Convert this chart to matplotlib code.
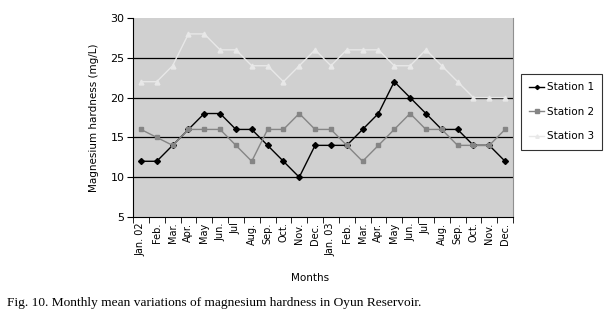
import matplotlib.pyplot as plt
import numpy as np

months = ["Jan. 02", "Feb.", "Mar.", "Apr.", "May", "Jun.", "Jul", "Aug.", "Sep.", "Oct.", "Nov.", "Dec.",
          "Jan. 03", "Feb.", "Mar.", "Apr.", "May", "Jun.", "Jul", "Aug.", "Sep.", "Oct.", "Nov.", "Dec."]
station1 = [12, 12, 14, 16, 18, 18, 16, 16, 14, 12, 10, 14, 14, 14, 16, 18, 22, 20, 18, 16, 16, 14, 14, 12]
station2 = [16, 15, 14, 16, 16, 16, 14, 12, 16, 16, 18, 16, 16, 14, 12, 14, 16, 18, 16, 16, 14, 14, 14, 16]
station3 = [22, 22, 24, 28, 28, 26, 26, 24, 24, 22, 24, 26, 24, 26, 26, 26, 24, 24, 26, 24, 22, 20, 20, 20]

fig = plt.figure(figsize=(6.11, 3.13), dpi=100)
ax = fig.add_axes([133 / 611, 1 - 217 / 313, 380 / 611, 199 / 313])
ax.set_facecolor("#d0d0d0")

x = np.arange(len(months))
ax.plot(x, station1, color="black", marker="D", markersize=3, lw=1, label="Station 1")
ax.plot(x, station2, color="#858585", marker="s", markersize=3.5, lw=1, label="Station 2")
ax.plot(x, station3, color="#e8e8e8", marker="^", markersize=3.5, lw=1, label="Station 3")

ax.set_xlim(-0.5, len(months) - 0.5)
ax.set_ylim(5, 30)
ax.set_yticks([5, 10, 15, 20, 25, 30])
for y in [10, 15, 20, 25]:
    ax.axhline(y, color="black", lw=0.9, zorder=0.5)

ax.set_xticks(x)
ax.set_xticklabels(months, rotation=90, fontsize=7)
ax.set_xticks(np.arange(-0.5, len(months), 1), minor=True)
ax.tick_params(axis="x", which="major", length=0, pad=4)
ax.tick_params(axis="x", which="minor", length=4, direction="out")
ax.tick_params(axis="y", labelsize=8, length=4, direction="out", pad=2)

ax.spines["top"].set_visible(False)
ax.spines["right"].set_color("#909090")
ax.spines["left"].set_color("black")
ax.spines["bottom"].set_color("black")

ax.set_ylabel("Magnesium hardness (mg/L)", fontsize=7.5, labelpad=8)
fig.text(310 / 611, 1 - 278 / 313, "Months", fontsize=7.5, ha="center", va="center")

leg = fig.legend(loc="upper left", bbox_to_anchor=(521 / 611, 1 - 74 / 313), fontsize=7.5,
                 frameon=True, fancybox=False, edgecolor="black", handlelength=1.4,
                 handletextpad=0.25, borderpad=0.8, labelspacing=1.4, borderaxespad=0,
                 markerscale=0.7)
leg.get_frame().set_linewidth(0.8)

fig.text(7 / 611, 1 - 303 / 313, "Fig. 10. Monthly mean variations of magnesium hardness in Oyun Reservoir.",
         family="Liberation Serif", fontsize=9.6, ha="left", va="center")

fig.savefig("out.png", dpi=100)
